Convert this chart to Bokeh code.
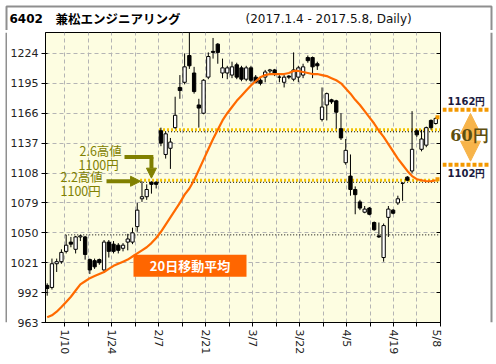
from bokeh.plotting import figure
from bokeh.layouts import column, row
from bokeh.models import (ColumnDataSource, FixedTicker, LinearAxis, Label, Arrow,
                          NormalHead, BoxAnnotation, Range1d, CustomJSTickFormatter)
from bokeh.embed import file_html
from bokeh.resources import INLINE

# ---------------- data ----------------
opens = [999, 997, 1020, 1022, 1032, 1041, 1034, 1046, 1046, 1024,
         1023, 1024, 1014, 1041, 1039, 1038, 1035, 1041, 1041, 1056,
         1083, 1085, 1099, 1099, 1149, 1126, 1132, 1152, 1191, 1196,
         1222, 1205, 1174, 1166, 1201, 1226, 1233, 1205, 1205, 1203,
         1213, 1210, 1199, 1210, 1201, 1198, 1201, 1207, 1208, 1201,
         1196, 1202, 1199, 1201, 1203, 1220, 1220, 1214, 1160, 1174,
         1179, 1178, 1151, 1118, 1105, 1092, 1080, 1070, 1074, 1060,
         1047, 1026, 1065, 1072, 1079, 1098, 1104, 1110, 1149, 1131,
         1135, 1159, 1156]
highs = [1001, 1025, 1025, 1034, 1048, 1046, 1047, 1048, 1047, 1025,
         1025, 1025, 1043, 1043, 1042, 1040, 1040, 1049, 1055, 1079,
         1100, 1097, 1100, 1100, 1152, 1148, 1142, 1182, 1203, 1224,
         1244, 1211, 1180, 1199, 1225, 1239, 1234, 1219, 1212, 1216,
         1215, 1212, 1212, 1212, 1203, 1200, 1208, 1209, 1209, 1203,
         1203, 1203, 1225, 1212, 1214, 1222, 1221, 1216, 1191, 1186,
         1180, 1179, 1166, 1141, 1126, 1095, 1082, 1076, 1075, 1061,
         1060, 1059, 1076, 1073, 1086, 1099, 1105, 1168, 1151, 1150,
         1153, 1160, 1162]
lows = [989, 995, 1012, 1020, 1030, 1036, 1030, 1042, 1024, 1010,
        1015, 1019, 1011, 1026, 1030, 1030, 1032, 1033, 1039, 1051,
        1080, 1082, 1088, 1093, 1134, 1122, 1112, 1151, 1180, 1194,
        1209, 1185, 1152, 1165, 1199, 1219, 1214, 1200, 1199, 1200,
        1199, 1197, 1197, 1196, 1195, 1193, 1196, 1203, 1202, 1196,
        1191, 1199, 1197, 1196, 1200, 1215, 1200, 1208, 1158, 1159,
        1175, 1151, 1140, 1116, 1086, 1068, 1072, 1069, 1067, 1052,
        1045, 1022, 1046, 1068, 1077, 1081, 1100, 1108, 1143, 1129,
        1133, 1150, 1155]
closes = [996, 1020, 1022, 1031, 1038, 1039, 1046, 1047, 1029, 1014,
          1017, 1021, 1041, 1032, 1032, 1033, 1038, 1044, 1050, 1072,
          1085, 1092, 1097, 1097, 1137, 1146, 1138, 1164, 1188, 1211,
          1212, 1187, 1171, 1198, 1221, 1225, 1225, 1210, 1210, 1211,
          1201, 1199, 1210, 1198, 1196, 1195, 1206, 1208, 1204, 1201,
          1201, 1201, 1208, 1210, 1211, 1217, 1211, 1212, 1172, 1185,
          1177, 1167, 1142, 1130, 1092, 1087, 1074, 1073, 1068, 1053,
          1046, 1057, 1073, 1069, 1083, 1098, 1101, 1131, 1145, 1141,
          1152, 1152, 1161]
ma20 = [968, 970, 973.5, 978, 983, 988, 994, 1000, 1003, 1006,
        1008, 1010, 1012, 1015, 1018, 1020, 1022, 1024, 1027, 1030,
        1033, 1036, 1040, 1045, 1051, 1058, 1065, 1072, 1079, 1087,
        1093, 1101, 1111, 1121, 1131, 1141, 1150, 1159, 1166, 1172,
        1178, 1183, 1188, 1193, 1197, 1201, 1203, 1204, 1204, 1204,
        1204, 1205, 1207, 1207, 1206, 1205, 1204, 1204, 1203, 1202,
        1200, 1198, 1195, 1190, 1185, 1179, 1174, 1168, 1162, 1156,
        1149, 1143, 1136, 1129, 1122, 1116, 1110, 1105, 1102, 1101,
        1100, 1100, 1101]
date_labels = ["1/10", "1/24", "2/7", "2/21", "3/7", "3/22", "4/5", "4/19", "5/8"]
y_ticks = [963, 992, 1021, 1050, 1079, 1108, 1137, 1166, 1195, 1224]
ref_black_idx, ref_black_level = 4, 1048
ref_yellow_idx = [20, 24]
ref_yellow_level = [1101, 1150]
high_0202_idx, high_0206_idx = 20, 22
span_hi, span_lo = 1162, 1102

# ---------------- layout (page pixels) ----------------
TOTAL_W, TOTAL_H = 494, 362
TH = 30                               # title strip height
BH = 5                                # bottom strip height
LW = 7                                # left strip width
FL, FR, FT, FB = 45, 440, 32, 323     # main frame edges on the page
MR = 442                              # right edge of the main figure
MW = MR - LW
MH = TOTAL_H - TH - BH
SW = TOTAL_W - MR
X0, X1 = -0.36, 83.0
Y0, Y1 = 963, 1244.3
PXU = (FR - FL) / (X1 - X0)
PYU = (FB - FT) / (Y1 - Y0)
BORDER = "#8f8f8f"
BX0, BX1, BY0, BY1 = 6, 491, 6, 359   # outer border centre lines


def px2x(px):
    return X0 + (px - FL) / PXU


def px2y(py):
    return Y0 + (FB - py) / PYU


def strip(w, h, xr, yr_):
    f = figure(width=w, height=h, output_backend="svg", toolbar_location=None,
               x_range=xr, y_range=yr_, x_axis_location=None, y_axis_location=None,
               min_border_left=0, min_border_right=0, min_border_top=0, min_border_bottom=0)
    f.outline_line_color = None
    f.grid.visible = False
    f.background_fill_color = "white"
    f.border_fill_color = "white"
    return f


yr = Range1d(Y0, Y1)
n = len(opens)
xs = list(range(n))
src = ColumnDataSource(dict(
    x=xs, o=opens, h=highs, l=lows, c=closes,
    top=[max(a, b) for a, b in zip(opens, closes)],
    bot=[min(a, b) for a, b in zip(opens, closes)],
    fill=["white" if c >= o else "black" for o, c in zip(opens, closes)],
))

p = figure(width=MW, height=MH, output_backend="svg", toolbar_location=None,
           x_range=Range1d(X0, X1), y_range=yr,
           min_border_left=FL - LW, min_border_right=MR - FR,
           min_border_top=FT - TH, min_border_bottom=TOTAL_H - BH - FB)
p.background_fill_color = "#fdfde1"
p.border_fill_color = "white"
p.outline_line_color = "black"
p.outline_line_width = 1

step = (X1 - 0.01 - 3.7) / (len(date_labels) - 1)
major = [3.7 + step * k for k in range(len(date_labels))]
minor = [m + step / 2 for m in major[:-1]]
xt = FixedTicker(ticks=major, minor_ticks=minor)
p.xaxis.ticker = xt
p.xaxis.formatter = CustomJSTickFormatter(args=dict(labels=date_labels),
                                          code="return labels[index];")
p.xaxis.major_label_orientation = "vertical"
p.xaxis.major_tick_out = 4
p.xaxis.major_tick_in = 0
p.xaxis.minor_tick_out = 4
p.xaxis.minor_tick_in = 0
p.xaxis.major_label_standoff = 3

p.yaxis.ticker = FixedTicker(ticks=y_ticks, minor_ticks=[])
p.yaxis.major_tick_out = 4
p.yaxis.major_tick_in = 2
p.yaxis.minor_tick_out = 0
p.yaxis.minor_tick_in = 0
p.yaxis.major_label_standoff = 3

for ax in [p.xaxis[0], p.yaxis[0]]:
    ax.major_label_text_font = "DejaVu Sans"
    ax.major_label_text_font_size = "11px"
    ax.major_label_text_color = "#222222"
    ax.axis_line_color = "black"
    ax.major_tick_line_color = "black"
    ax.minor_tick_line_color = "black"

ra = LinearAxis(ticker=FixedTicker(ticks=y_ticks, minor_ticks=[]),
                formatter=CustomJSTickFormatter(code="return '';"),
                major_tick_in=4, major_tick_out=0,
                minor_tick_in=0, minor_tick_out=0, axis_line_color="black",
                major_label_standoff=0)
p.add_layout(ra, "right")

p.xgrid.ticker = xt
p.xgrid.grid_line_color = "#b4b4b4"
p.xgrid.grid_line_dash = "4 3"
p.xgrid.minor_grid_line_color = "#b4b4b4"
p.xgrid.minor_grid_line_dash = "4 3"
p.ygrid.grid_line_color = "#b4b4b4"
p.ygrid.grid_line_dash = "4 3"

# reference dotted lines
p.segment(x0=[ref_black_idx - 0.2], y0=[ref_black_level], x1=[X1], y1=[ref_black_level],
          line_color="black", line_width=1, line_dash="1 2")
p.segment(x0=[i - 0.4 for i in ref_yellow_idx], y0=ref_yellow_level,
          x1=[X1] * 2, y1=ref_yellow_level,
          line_color="#f2c200", line_width=3, line_dash="2 2")
p.segment(x0=[i - 0.4 for i in ref_yellow_idx], y0=[v - 2 for v in ref_yellow_level],
          x1=[X1] * 2, y1=[v - 2 for v in ref_yellow_level],
          line_color="black", line_width=1, line_dash="1 2")

# candles
p.segment(x0="x", y0="l", x1="x", y1="h", source=src, line_color="black", line_width=1)
p.vbar(x="x", width=0.7, top="top", bottom="bot", source=src,
       fill_color="fill", line_color="black", line_width=1)

# moving average
p.line(xs, ma20, line_color="#ff6a00", line_width=2.2)

# span lines: part inside the main frame
orange = "#f39800"
p.segment(x0=[px2x(435)] * 2, y0=[span_hi, span_lo], x1=[X1] * 2, y1=[span_hi, span_lo],
          line_color=orange, line_width=4, line_dash="4 2")

olive = "#808000"
cjk = "Noto Sans CJK JP"


def lab(fig, txt, x, y, font, size, color, bold=False, align="left"):
    fig.add_layout(Label(x=x, y=y, text=txt, text_font=font,
                         text_font_size=size, text_color=color,
                         text_font_style="bold" if bold else "normal",
                         text_align=align, text_baseline="middle"))


# high annotations
lab(p, "2.6高値", px2x(79), px2y(150), cjk, "12.5px", olive)
lab(p, "1100円", px2x(78), px2y(164), cjk, "12.5px", olive)
lab(p, "2.2高値", px2x(60), px2y(176), cjk, "12.5px", olive)
lab(p, "1100円", px2x(60), px2y(191), cjk, "12.5px", olive)

tip26_x = high_0206_idx
tip26_y = highs[high_0206_idx] + 3
p.add_layout(Arrow(end=None, x_start=px2x(124), y_start=px2y(157),
                   x_end=tip26_x + 0.4, y_end=px2y(157),
                   line_color=olive, line_width=4))
p.add_layout(Arrow(end=NormalHead(size=10, fill_color=olive, line_color=olive),
                   x_start=tip26_x, y_start=px2y(157), x_end=tip26_x, y_end=tip26_y,
                   line_color=olive, line_width=4))
p.add_layout(Arrow(end=NormalHead(size=10, fill_color=olive, line_color=olive),
                   x_start=px2x(106), y_start=highs[high_0202_idx],
                   x_end=high_0202_idx - 0.3, y_end=highs[high_0202_idx],
                   line_color=olive, line_width=4))

# MA label
p.add_layout(BoxAnnotation(left=px2x(133), right=px2x(246), top=px2y(255), bottom=px2y(277),
                           fill_color="#ff6600", fill_alpha=1, line_alpha=0))
lab(p, "20日移動平均", px2x(189.5), px2y(266), cjk, "13px", "white", bold=True, align="center")

# ---------------- title strip (data units = page pixels) ----------------
t = strip(TOTAL_W, TH, Range1d(0, TOTAL_W), Range1d(TH, 0))
t.line([BX0, BX0, BX1, BX1], [TH, BY0, BY0, TH], line_color=BORDER, line_width=2)
lab(t, "6402", 9, 18, "DejaVu Sans", "12px", "black", bold=True)
lab(t, "兼松エンジニアリング", 55, 18, cjk, "12.5px", "black", bold=True)
lab(t, "(2017.1.4 - 2017.5.8, Daily)", 245, 18.5, "DejaVu Sans", "12px", "#111111")

# ---------------- left strip ----------------
lft = strip(LW, MH, Range1d(0, LW), Range1d(TH + MH, TH))
lft.line([BX0, BX0], [TH, TH + MH], line_color=BORDER, line_width=2)

# ---------------- bottom strip ----------------
bt = strip(TOTAL_W, BH, Range1d(0, TOTAL_W), Range1d(TOTAL_H, TOTAL_H - BH))
bt.line([BX0, BX0, BX1, BX1], [TOTAL_H - BH, BY1, BY1, TOTAL_H - BH],
        line_color=BORDER, line_width=2)

# ---------------- right strip (x = page pixels, y = price) ----------------
s = strip(SW, MH, Range1d(MR, TOTAL_W), Range1d(px2y(TH + MH), px2y(TH)))
s.line([BX1, BX1], [px2y(TH), px2y(TH + MH)], line_color=BORDER, line_width=2)
s.segment(x0=[MR] * 2, y0=[span_hi, span_lo], x1=[488] * 2, y1=[span_hi, span_lo],
          line_color=orange, line_width=4, line_dash="4 2")
arrow_c = "#f7b44a"
s.add_layout(Arrow(start=NormalHead(size=20, fill_color=arrow_c, line_color=arrow_c),
                   end=NormalHead(size=20, fill_color=arrow_c, line_color=arrow_c),
                   x_start=470, y_start=span_lo + 4, x_end=470, y_end=span_hi - 4,
                   line_color=arrow_c, line_width=12))
lab(s, f"{span_hi}円", 466, px2y(108), "DejaVu Sans", "10px", "#1a1a40", bold=True, align="center")
lab(s, f"{span_lo}円", 466, px2y(189), "DejaVu Sans", "10px", "#1a1a40", bold=True, align="center")
lab(s, f"{span_hi - span_lo}円", 469, px2y(146), "DejaVu Serif", "16px", "#5e4e10",
    bold=True, align="center")

layout = column(t, row(lft, p, s), bt)

open("out.html", "w").write(file_html(layout, INLINE))
